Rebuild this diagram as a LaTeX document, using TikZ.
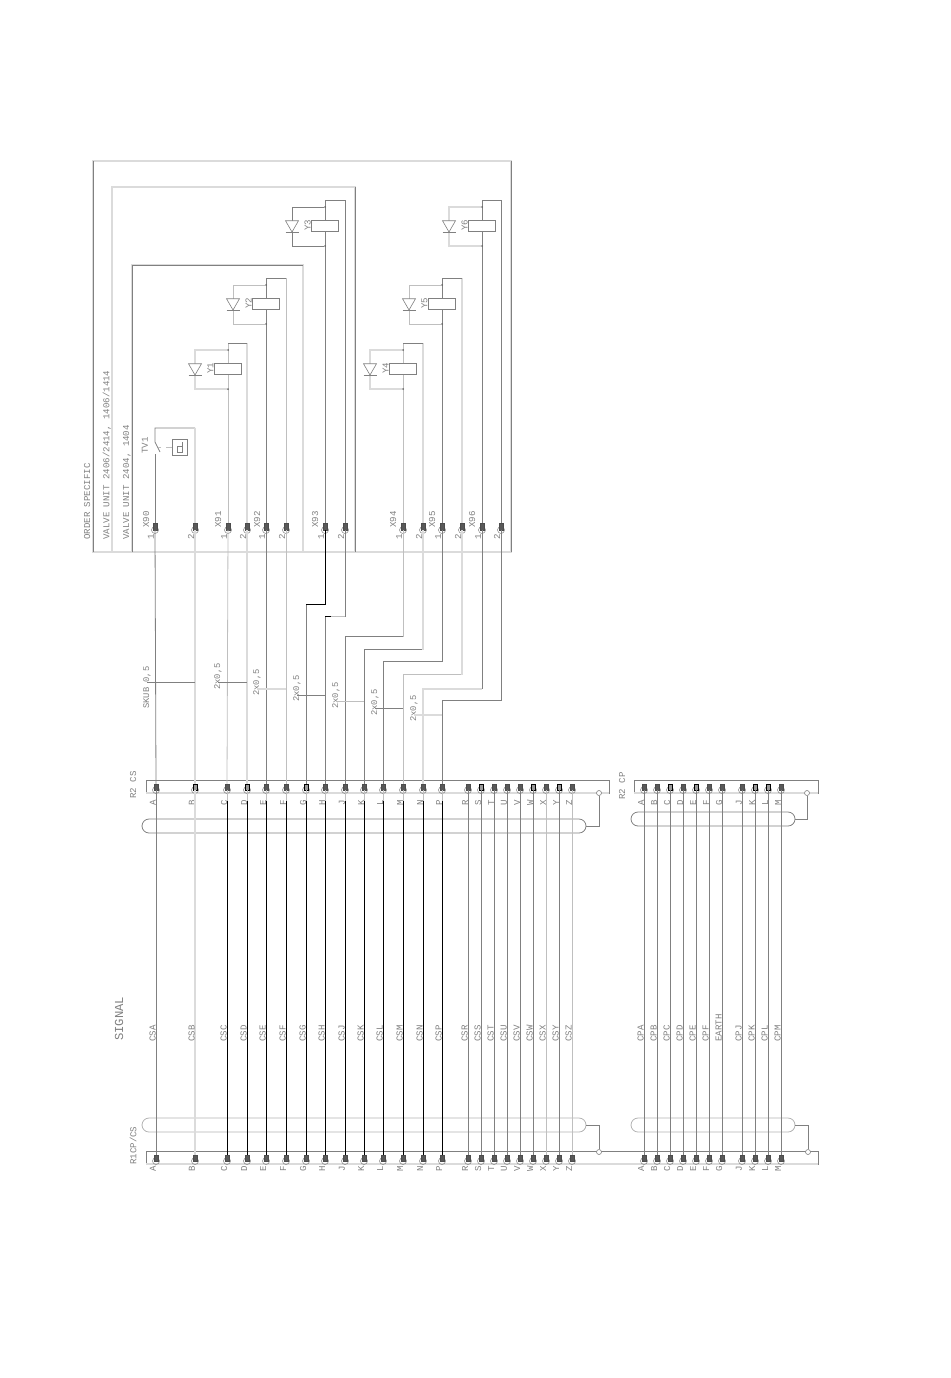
\documentclass[tikz,border=0pt]{standalone}
\usepackage{fontspec}
\setmainfont{Liberation Mono}
\usetikzlibrary{shapes.geometric,shapes.misc,positioning,calc}

\begin{document}
\begin{tikzpicture}[
      x=1pt, y=-1pt,
      wgray/.style={draw=black!50, line width=0.8pt},
      wthin/.style={draw=black!25, line width=0.8pt},
      wpale/.style={draw=black!14, line width=1.6pt},
      wblack/.style={draw=black, line width=1pt},
      pinbox/.style={rectangle, draw=black!70, fill=black!65, line width=0.4pt,
                  minimum width=3.6pt, minimum height=6pt, inner sep=0pt},
      pinblack/.style={pinbox, draw=black, fill=black!40, line width=0.6pt},
      socket/.style={circle, draw=black!50, line width=0.5pt, minimum size=7pt, inner sep=0pt},
      gnd/.style={circle, draw=black!50, fill=white, line width=0.6pt, minimum size=5pt, inner sep=0pt},
      junction/.style={circle, fill=black!60, minimum size=2pt, inner sep=0pt},
      coil/.style={rectangle, draw=black!50, fill=white, line width=0.8pt,
                  minimum width=26.5pt, minimum height=10.5pt, inner sep=0pt},
      diode/.style={regular polygon, regular polygon sides=3, shape border rotate=180,
                  draw=black!50, fill=white, line width=0.6pt, minimum size=15pt, inner sep=0pt},
      shield/.style={rounded rectangle, draw=black!50, line width=0.8pt, minimum height=14pt, inner sep=0pt},
      shieldlo/.style={shield, draw=black!30},
      lbl/.style={rotate=90, anchor=west, inner sep=0pt, text=black!50, font=\fontsize{9.1}{10}\selectfont},
    ]
    \useasboundingbox (0,0) rectangle (950,1378);

    % Order specific frames
    \draw[wpale] (93,161) rectangle (511,552);
    \draw[wpale] (112,187) rectangle (355,552);
    \draw[wpale] (132,265) rectangle (303,552);
    \draw[wgray] (93,552) -- (93,161);
    \draw[wgray] (511,161) -- (511,552);
    \draw[wgray] (355,187) -- (355,552);
    \draw[wgray] (132,552) |- (303,265);
    \node[lbl] (order) at (87,540) {ORDER SPECIFIC};
    \node[lbl] (unita) at (107,540) {VALVE UNIT 2406/2414, 1406/1414};
    \node[lbl] (unitb) at (127,540) {VALVE UNIT 2404, 1404};

    % Connector bars
    \draw[wgray] (146,780) rectangle (609,793);
    \draw[wgray] (634,780) rectangle (818,793);
    \draw[wgray] (146,1151) rectangle (818,1164);
    \draw[wpale] (146,793) -- (609,793);
    \draw[wpale] (634,793) -- (818,793);
    \draw[wpale] (146,1164) -- (818,1164);
    \node[lbl] (r2cs) at (133,799) {R2 CS};
    \node[lbl] (r2cp) at (622,800) {R2 CP};
    \node[lbl] (r1cs) at (133,1165) {R1CP/CS};
    \node[lbl, font=\fontsize{12.2}{13}\selectfont] (signal) at (119,1041) {SIGNAL};

    % Pins on the bars
    \foreach \row/\y/\d in {r2/787/19, r1/1158/14}
      \foreach \n/\x in {A/156,B/195,C/227,D/247,E/266,F/286,G/306,H/325,J/345,K/364,L/383,
                         M/403,N/423,P/442,R/468,S/481,T/494,U/507,V/520,W/533,X/546,Y/559,Z/572}{
        \node[socket] (\row s\n) at (\x,\y+3) {};
        \node[pinbox] (\row-\n) at (\x,\y) {};
        \node[lbl] (\row l\n) at (\x-3,\y+\d) {\n};
      }
    \foreach \row/\y/\d in {r2/787/19, r1/1158/14}
      \foreach \n/\x in {A/644,B/657,C/670,D/683,E/696,F/709,G/722,J/742,K/755,L/768,M/781}{
        \node[socket] (\row ps\n) at (\x,\y+3) {};
        \node[pinbox] (\row p-\n) at (\x,\y) {};
        \node[lbl] (\row pl\n) at (\x-3,\y+\d) {\n};
      }
    \foreach \n in {B,D,G,S,W,Y}
      \node[pinblack] (r2k-\n) at (r2-\n) {};
    \foreach \n in {C,E,K,L}
      \node[pinblack] (r2pk-\n) at (r2p-\n) {};

    % Plug pins X90 - X96
    \foreach \n/\x/\t in {90a/155/1,90b/195/2,91a/228/1,91b/247/2,92a/266/1,92b/286/2,93a/325/1,93b/345/2,
                          94a/403/1,94b/423/2,95a/442/1,95b/462/2,96a/482/1,96b/501/2}{
        \node[socket] (xs\n) at (\x,530) {};
        \node[pinbox, minimum height=7pt] (x\n) at (\x,526.5) {};
        \node[lbl] (xl\n) at (\x-4,540) {\t};
      }
    \foreach \n/\x in {90/146,91/218,92/257,93/315,94/393,95/432,96/472}
      \node[lbl] (xn\n) at (\x,528) {X\n};

    % Shields
    \node[shield, minimum width=444pt] (shcs) at (364,826) {};
    \node[shield, minimum width=164pt] (shcp) at (713,819) {};
    \node[shieldlo, minimum width=444pt] (slcs) at (364,1125) {};
    \node[shieldlo, minimum width=164pt] (slcp) at (713,1125) {};
    \node[gnd] (gcs) at (599,793) {};
    \node[gnd] (gcp) at (807,793) {};
    \node[gnd] (hcs) at (599,1152) {};
    \node[gnd] (hcp) at (808,1152) {};
    \draw[wgray] (shcs.east) -| (gcs.south);
    \draw[wgray] (shcp.east) -| (gcp.south);
    \draw[wgray] (slcs.east) -| (hcs.north);
    \draw[wgray] (slcp.east) -| (hcp.north);

    % Signal wires between the bars
    \foreach \n in {A,R,S,T,U,V,W,Y}
      \draw[wgray] (r2-\n.south) -- (r1-\n.north);
    \foreach \n in {X,Z}
      \draw[wthin] (r2-\n.south) -- (r1-\n.north);
    \draw[wpale] (r2-B.south) -- (r1-B.north);
    \foreach \n in {C,D,E,F,G,H,J,K,L,M,N,P}{
      \draw[wthin] (r2-\n.south) -- ++(0,11) coordinate (start\n);
      \draw[wblack] (start\n) -- (r1-\n.north);
    }
    \foreach \n in {A,B,C,D,E,F,G,J,K,L,M}
      \draw[wgray] (r2p-\n.south) -- (r1p-\n.north);

    % Signal names
    \foreach \n in {A,B,C,D,E,F,G,H,J,K,L,M,N,P,R,S,T,U,V,W,X,Y,Z}
      \node[lbl] (cs\n) at ($(r2-\n |- 0,1042)+(-3.5,0)$) {CS\n};
    \foreach \n/\t in {A/CPA,B/CPB,C/CPC,D/CPD,E/CPE,F/CPF,G/EARTH,J/CPJ,K/CPK,L/CPL,M/CPM}
      \node[lbl] (cp\n) at ($(r2p-\n |- 0,1042)+(-3.5,0)$) {\t};

    % Straight wires to the plugs
    \draw[wgray] (r2-A.north) -- (x90a.south);
    \draw[wpale] (r2-B.north) -- (x90b.south);
    \draw[wthin] (r2-C.north) -- (x91a.south);
    \draw[wpale] (r2-D.north) -- (x91b.south);
    \draw[wgray] (r2-E.north) -- (x92a.south);
    \draw[wthin] (r2-F.north) -- (x92b.south);

    % Wires with a jog
    \draw[wgray] (r2-G.north) -- ++(0,-179) coordinate (jogG);
    \draw[wblack] (jogG) -| (x93a.south);
    \draw[wgray] (r2-H.north) -- ++(0,-167) coordinate (jogH);
    \draw[wthin] (jogH) -- (jogH -| x93b) coordinate (upH);
    \draw[wgray] (upH) -- (x93b.south);
    \draw[wblack] (jogH) -- ++(6,0);
    \foreach \n/\d/\p/\s/\t in {J/147/94a/wgray/wthin, K/134/94b/wgray/wpale, L/122/95a/wgray/wgray,
                                M/109/95b/wthin/wpale, N/95/96a/wpale/wgray, P/83/96b/wgray/wgray}{
      \draw[\s] (r2-\n.north) -- ++(0,-\d) coordinate (jog\n) -- (jog\n -| x\p) coordinate (up\n);
      \draw[\t] (up\n) -- (x\p.south);
    }

    % Twisted pair marks
    \node[lbl, font=\fontsize{8.8}{10}\selectfont] (skub) at (147,709) {SKUB 0,5};
    \foreach \n/\x/\b in {tw1/218/690, tw2/257/696, tw3/297/702, tw4/336/709, tw5/375/716, tw6/414/722}
      \node[lbl, font=\fontsize{8.8}{10}\selectfont] (\n) at (\x,\b) {2x0,5};
    \draw[wgray] (skub |- 0,682) -- (r2-B |- 0,682);
    \draw[wgray] (tw1 |- 0,682) -- (r2-D |- 0,682);
    \draw[wpale] (tw2 |- 0,689) -- (r2-F |- 0,689);
    \draw[wgray] (tw3 |- 0,695) -- (r2-H |- 0,695);
    \draw[wthin] (tw4 |- 0,701) -- (r2-K |- 0,701);
    \draw[wgray] (tw5 |- 0,708) -- (r2-M |- 0,708);
    \draw[wpale] (tw6 |- 0,715) -- (r2-P |- 0,715);

    % Valves Y1 - Y6
    \foreach \k/\xa/\yt/\pa/\pb/\sa/\sb/\sc in {1/228/343/91a/91b/wthin/wpale/wpale, 2/266/278/92a/92b/wgray/wthin/wthin,
                                                3/325/200/93a/93b/wgray/wgray/wgray, 4/403/343/94a/94b/wthin/wpale/wpale,
                                                5/442/278/95a/95b/wgray/wpale/wthin, 6/482/200/96a/96b/wgray/wgray/wpale}{
      \coordinate (top\k) at (\xa,\yt);
      \draw[\sa] (x\pa.north) -- (top\k);
      \draw[\sb] (x\pb.north) -- (top\k -| x\pb);
      \draw[wgray] (top\k) -- (top\k -| x\pb);
      \node[junction] (ja\k) at (\xa,\yt+7) {};
      \node[junction] (jb\k) at (\xa,\yt+46) {};
      \draw[\sc] (ja\k) -- ++(-33,0) |- (jb\k);
      \node[coil] (y\k) at (\xa,\yt+26) {};
      \node[diode] (d\k) at (\xa-33,\yt+24.5) {};
      \draw[wgray] ($(d\k.corner 1)+(-6.5,0)$) -- ($(d\k.corner 1)+(6.5,0)$);
      \node[lbl] (yl\k) at (\xa-17.5,\yt+31) {Y\k};
    }

    % Thermal switch
    \coordinate (swa) at (155,454);
    \coordinate (swb) at (155,442);
    \node[rectangle, draw=black!50, fill=white, line width=0.6pt, minimum width=15pt, minimum height=16pt,
          inner sep=0pt] (tbox) at (179.5,447) {};
    \draw[wgray] (x90a.north) -- (swa);
    \draw[wgray] (160,452) -- (swb) |- (x90b |- 0,428);
    \draw[wpale] (x90b |- 0,428) -- (x90b.north);
    \draw[wthin] (tbox.west) -- (166,447);
    \draw[wthin] (161,447) -- (158,447);
    \draw[wgray] (182.5,442) -- (182.5,452) -- (177,452) -- (177,446) -- (182.5,446);
    \node[lbl] (tv1) at (145,454) {TV1};

\end{tikzpicture}
\end{document}
